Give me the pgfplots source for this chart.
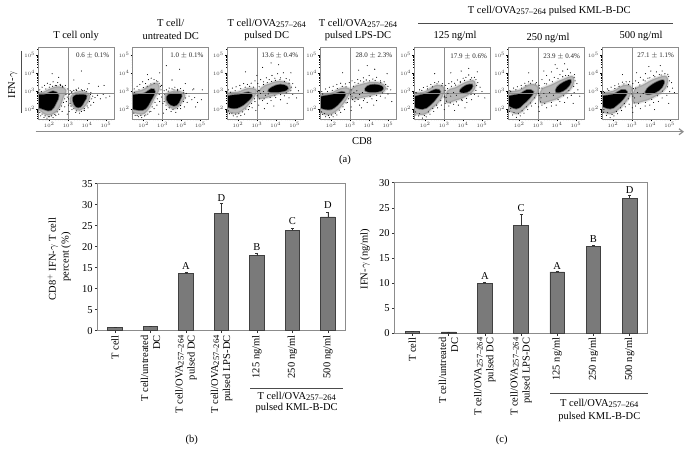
\documentclass[border=0pt]{standalone}
\usepackage{pgfplots}
\pgfplotsset{compat=1.18}
\usepackage{fontspec}
\setmainfont{Liberation Serif}
\usetikzlibrary{arrows.meta}
\definecolor{framegray}{HTML}{8C8C8C}
\definecolor{bargray}{HTML}{7A7A7A}
\newcommand{\lab}{\fontsize{10.5}{12}\selectfont}
\newcommand{\ova}{OVA\raisebox{-0.25ex}{\fontsize{8.5}{10}\selectfont 257--264}}

\pgfplotstableread{
x y e
0 0.7 0.1
1 1.0 0.1
2 13.6 0.4
3 28.0 2.3
4 17.9 0.6
5 23.9 0.4
6 27.1 1.1
}\tabb
\pgfplotstableread{
x y e
0 0.3 0.05
1 0.2 0.05
2 9.9 0.3
3 21.4 2.3
4 12.2 0.2
5 17.3 0.2
6 26.9 0.6
}\tabc

\pgfplotsset{
  flow/.style={
    scale only axis, anchor=south west, width=76pt, height=71.6pt,
    xmin=1.42, xmax=5.44, ymin=1.41, ymax=5.40,
    axis line style={framegray, line width=0.9pt},
    axis on top,
    tick pos=left, tick align=outside,
    xtick={2,3,4,5}, ytick={2,3,4,5},
    xticklabels={$10^2$,$10^3$,$10^4$,$10^5$},
    yticklabels={$10^2$,$10^3$,$10^4$,$10^5$},
    minor xtick={1.48,1.6,1.7,1.78,1.85,1.9,1.95,2.3,2.48,2.6,2.7,2.78,2.85,2.9,2.95,3.3,3.48,3.6,3.7,3.78,3.85,3.9,3.95,4.3,4.48,4.6,4.7,4.78,4.85,4.9,4.95,5.3},
    minor ytick={1.48,1.6,1.7,1.78,1.85,1.9,1.95,2.3,2.48,2.6,2.7,2.78,2.85,2.9,2.95,3.3,3.48,3.6,3.7,3.78,3.85,3.9,3.95,4.3,4.48,4.6,4.7,4.78,4.85,4.9,4.95,5.3},
    major tick length=2pt, minor tick length=1.1pt,
    tick style={black, line width=0.35pt},
    ticklabel style={font=\fontsize{4.5}{5}\selectfont, inner sep=1pt, text=black!75},
    clip=true,
  },
  halo/.style={smooth cycle, tension=0.7, fill=black, fill opacity=0.28, draw=black, draw opacity=0.1, line width=2.5pt, forget plot},
  core/.style={smooth cycle, tension=0.7, fill=black, draw=black, draw opacity=0.4, line width=1.6pt, forget plot},
  dots/.style={only marks, mark=*, mark size=0.25pt, black, forget plot},
  qline/.style={framegray, line width=0.6pt, forget plot},
  barax/.style={
    scale only axis, anchor=south west,
    xmin=-0.5, xmax=6.5, ymin=0,
    xtick={0,1,2,3,4,5,6},
    xticklabels={T cell,{T cell/untreated\\DC},{T cell/\ova\\pulsed DC},{T cell/\ova\\pulsed LPS-DC},125 ng/ml,250 ng/ml,500 ng/ml},
    xticklabel style={rotate=90, anchor=east, align=right, font=\lab, inner sep=2pt},
    yticklabel style={font=\lab, inner sep=2pt},
    /pgf/number format/assume math mode=true,
    tick pos=left, tick align=outside,
    major tick length=2.5pt,
    tick style={black!80, line width=0.5pt},
    axis line style={framegray, line width=0.9pt},
    ybar, bar width=14.5pt,
  },
  barst/.style={fill=bargray, draw=black!75, line width=0.6pt,
    error bars/.cd, y dir=plus, y explicit,
    error bar style={black!80, line width=0.6pt},
    error mark options={rotate=90, mark size=1.5pt, black!80}},
}

\begin{document}
\begin{tikzpicture}[x=1pt,y=-1pt]
\path[use as bounding box] (0,0) rectangle (691,462);

% --- panel a, flow plots (log10 of the channel values)
\begin{axis}[flow, at={(38.3pt,-119.3pt)}]
\addplot[halo] coordinates {(1.42,2.05)(1.6,1.8)(1.9,1.62)(2.25,1.72)(2.55,2.05)(2.75,2.6)(2.9,3.05)(2.5,3.25)(2.1,3.15)(1.7,2.95)(1.42,2.8)};
\addplot[core] coordinates {(1.3,2.2)(1.75,1.95)(2.1,1.92)(2.35,2.3)(2.5,2.75)(2.2,2.98)(1.8,2.8)(1.3,2.72)};
\addplot[halo] coordinates {(3.08,2.5)(3.25,2.1)(3.6,1.88)(3.95,2.2)(4.15,2.6)(4.05,2.88)(3.6,2.98)(3.25,2.85)};
\addplot[core] coordinates {(3.25,2.45)(3.4,2.12)(3.65,2.1)(3.85,2.4)(3.98,2.72)(3.6,2.78)(3.3,2.7)};
\addplot[dots] coordinates {(1.5,3.05)(1.62,3.2)(1.75,3.3)(1.9,3.42)(2.05,3.35)(2.2,3.5)(2.32,3.3)(2.45,3.45)(2.6,3.3)(2.72,3.2)(2.85,3.3)(1.55,1.6)(1.72,1.52)(1.88,1.48)(2.02,1.55)(2.2,1.5)(2.35,1.62)(2.5,1.7)(2.68,1.85)(2.82,2.1)(2.9,2.4)(2.95,2.65)(3.02,2.2)(3.05,2.8)(3.1,3.0)(3.18,2.92)(3.3,3.02)(3.42,3.08)(3.55,3.15)(3.7,3.05)(3.85,3.02)(4.02,3.1)(4.2,2.9)(4.3,2.7)(4.42,2.62)(4.55,2.75)(4.7,2.55)(4.85,2.8)(5.0,2.6)(4.35,2.35)(4.2,2.2)(4.05,2.05)(3.85,1.9)(3.6,1.75)(3.4,1.8)(3.2,1.95)(3.05,1.85)(2.95,1.7)(2.5,3.75)(3.3,3.6)(4.1,3.4)(4.6,3.25)(3.7,4.1)(2.15,3.95)(4.9,3.3)(5.2,2.7)(1.5,1.78)(1.62,1.7)(1.78,1.6)(1.95,1.55)(2.12,1.6)(2.3,1.68)(2.42,1.82)(2.55,1.95)(2.65,2.15)(2.75,2.35)(2.82,2.55)(2.88,2.8)(2.98,3.1)(2.7,3.25)(2.58,3.35)(2.38,3.28)(2.18,3.25)(2.0,3.2)(1.82,3.1)(1.58,2.95)(1.45,2.9)(3.1,2.3)(3.15,2.15)(3.3,2.0)(3.45,1.88)(3.7,1.85)(3.85,2.0)(4.0,2.15)(4.12,2.4)(4.25,2.55)(4.18,2.8)(3.95,2.95)(3.75,3.0)(3.45,3.02)(3.2,2.95)(3.02,2.55)};
\addplot[qline] coordinates {(3,1.41)(3,5.4)};
\addplot[qline] coordinates {(1.42,2.86)(5.44,2.86)};
\end{axis}

\begin{axis}[flow, at={(132.7pt,-119.3pt)}]
\addplot[halo] coordinates {(1.3,1.95)(1.7,1.7)(2.05,1.72)(2.35,2.1)(2.6,2.6)(2.85,3.1)(2.7,3.45)(2.3,3.3)(1.9,3.05)(1.3,2.8)};
\addplot[core] coordinates {(1.3,2.1)(1.75,1.92)(2.1,2.0)(2.35,2.4)(2.6,2.95)(2.4,3.1)(2.0,2.85)(1.3,2.7)};
\addplot[halo] coordinates {(3.1,2.55)(3.3,2.15)(3.65,1.98)(4.0,2.3)(4.2,2.75)(3.9,3.0)(3.5,2.98)(3.2,2.85)};
\addplot[core] coordinates {(3.22,2.5)(3.45,2.2)(3.75,2.2)(3.95,2.55)(4.0,2.8)(3.65,2.85)(3.3,2.78)};
\addplot[dots] coordinates {(1.5,3.1)(1.65,3.25)(1.8,3.35)(1.95,3.5)(2.1,3.4)(2.25,3.62)(2.4,3.7)(2.55,3.62)(2.68,3.55)(2.82,3.42)(2.95,3.3)(2.2,3.9)(1.55,1.62)(1.72,1.55)(1.9,1.5)(2.05,1.6)(2.22,1.7)(2.38,1.85)(2.55,2.0)(2.7,2.2)(2.85,2.4)(2.95,2.65)(3.02,2.3)(3.08,3.0)(3.2,3.05)(3.35,3.15)(3.5,3.1)(3.65,3.2)(3.8,3.08)(3.95,3.12)(4.1,3.02)(4.25,2.85)(4.4,2.7)(4.55,2.5)(4.7,2.62)(4.85,2.35)(5.05,2.5)(4.3,2.35)(4.15,2.1)(3.95,2.0)(3.7,1.8)(3.45,1.85)(3.2,1.95)(3.05,1.75)(2.8,1.7)(3.5,3.6)(4.2,3.4)(4.65,3.1)(2.85,4.0)(3.9,4.2)(5.1,3.05)(3.2,4.4)(4.75,2.1)(1.48,1.75)(1.65,1.62)(1.85,1.62)(2.12,1.65)(2.3,1.82)(2.45,2.1)(2.6,2.35)(2.72,2.55)(2.82,2.8)(2.92,3.05)(2.88,3.25)(2.75,3.5)(2.55,3.42)(2.38,3.38)(2.18,3.25)(1.98,3.18)(1.75,3.05)(1.52,2.92)(3.08,2.4)(3.18,2.2)(3.35,2.05)(3.55,1.95)(3.78,2.0)(3.95,2.18)(4.1,2.4)(4.22,2.6)(4.12,2.88)(3.8,3.0)(3.6,3.05)(3.3,2.98)(3.12,2.78)(4.6,3.05)};
\addplot[qline] coordinates {(3,1.41)(3,5.4)};
\addplot[qline] coordinates {(1.42,2.86)(5.44,2.86)};
\end{axis}

\begin{axis}[flow, at={(227pt,-119.3pt)}]
\addplot[halo] coordinates {(1.3,2.0)(1.8,1.72)(2.2,1.85)(2.6,2.25)(2.95,2.8)(2.95,3.1)(2.5,3.15)(2.0,2.95)(1.3,2.8)};
\addplot[core] coordinates {(1.3,2.2)(1.75,2.02)(2.1,2.1)(2.45,2.35)(2.75,2.72)(2.55,2.92)(2.1,2.8)(1.3,2.65)};
\addplot[halo] coordinates {(3.05,2.6)(3.5,2.6)(4.1,2.8)(4.7,2.95)(4.75,3.35)(4.2,3.55)(3.7,3.42)(3.2,3.15)};
\addplot[core] coordinates {(3.6,2.98)(4.0,2.92)(4.55,3.02)(4.62,3.22)(4.25,3.35)(3.8,3.2)};
\addplot[dots] coordinates {(1.5,3.05)(1.7,3.15)(1.9,3.22)(2.1,3.3)(2.3,3.4)(2.5,3.35)(2.7,3.42)(2.9,3.55)(3.05,3.4)(3.2,3.62)(3.35,3.5)(3.5,3.72)(3.65,3.62)(3.8,3.85)(3.95,3.7)(4.1,3.95)(4.25,3.72)(4.4,4.0)(4.55,3.68)(4.72,3.6)(4.9,3.4)(5.05,3.2)(5.2,3.0)(4.9,2.8)(4.7,2.6)(4.45,2.72)(4.25,2.5)(4.0,2.62)(3.75,2.45)(3.55,2.3)(3.3,2.45)(3.1,2.2)(2.9,2.4)(2.75,2.05)(2.55,1.95)(2.35,1.7)(2.15,1.62)(1.95,1.55)(1.75,1.6)(1.55,1.72)(3.2,2.85)(3.35,2.95)(3.45,2.75)(3.6,2.82)(3.05,2.95)(3.15,3.0)(2.95,1.9)(3.4,2.0)(3.9,2.15)(4.6,2.3)(2.4,4.05)(3.3,4.3)(4.15,4.45)(3.75,4.55)(5.1,2.6)(4.8,4.0)(3.0,3.85)(1.5,1.88)(1.68,1.75)(1.88,1.7)(2.05,1.72)(2.25,1.82)(2.42,1.98)(2.6,2.12)(2.72,2.3)(2.88,2.55)(3.02,2.72)(3.08,3.02)(2.82,3.2)(2.62,3.25)(2.38,3.2)(2.15,3.12)(1.85,3.0)(1.6,2.92)(3.12,3.22)(3.35,3.35)(3.55,3.45)(3.78,3.52)(3.98,3.58)(4.22,3.62)(4.45,3.52)(4.7,3.42)(4.82,3.2)(4.8,3.0)(4.55,2.88)(4.25,2.78)(3.95,2.72)(3.7,2.62)(3.38,2.55)(3.15,2.55)};
\addplot[qline] coordinates {(3,1.41)(3,5.4)};
\addplot[qline] coordinates {(1.42,2.86)(5.44,2.86)};
\end{axis}

\begin{axis}[flow, at={(320.3pt,-119.3pt)}]
\addplot[halo] coordinates {(1.3,1.95)(1.8,1.65)(2.2,1.8)(2.6,2.2)(2.95,2.8)(2.95,3.15)(2.5,3.15)(2.0,2.9)(1.3,2.7)};
\addplot[core] coordinates {(1.3,2.15)(1.8,1.95)(2.15,2.05)(2.5,2.4)(2.75,2.8)(2.55,2.95)(2.1,2.8)(1.3,2.6)};
\addplot[halo] coordinates {(3.05,2.55)(3.6,2.6)(4.2,2.75)(4.8,2.95)(4.85,3.3)(4.3,3.5)(3.6,3.38)(3.1,3.15)};
\addplot[core] coordinates {(3.8,3.0)(4.2,2.92)(4.65,3.0)(4.72,3.22)(4.3,3.35)(3.9,3.25)};
\addplot[dots] coordinates {(1.5,2.95)(1.7,3.1)(1.9,3.2)(2.1,3.25)(2.3,3.35)(2.5,3.42)(2.75,3.38)(2.95,3.45)(3.1,3.55)(3.25,3.45)(3.4,3.62)(3.55,3.55)(3.7,3.72)(3.85,3.6)(4.0,3.85)(4.2,3.65)(4.4,3.75)(4.6,3.55)(4.8,3.5)(5.0,3.25)(5.15,3.05)(5.0,2.82)(4.85,2.6)(4.6,2.7)(4.4,2.45)(4.15,2.55)(3.9,2.35)(3.7,2.45)(3.5,2.2)(3.25,2.4)(3.05,2.1)(2.85,2.35)(2.7,1.95)(2.5,1.8)(2.3,1.65)(2.1,1.55)(1.9,1.5)(1.7,1.55)(1.55,1.68)(3.2,2.9)(3.35,3.0)(3.5,2.8)(3.65,2.9)(3.1,2.7)(3.3,2.62)(3.05,1.9)(3.6,2.05)(4.25,2.2)(2.6,4.0)(3.45,4.15)(4.3,4.2)(3.9,4.4)(5.2,2.4)(4.95,3.95)(1.48,1.82)(1.65,1.72)(1.85,1.62)(2.02,1.65)(2.22,1.75)(2.42,1.92)(2.62,2.1)(2.78,2.32)(2.92,2.55)(3.02,2.8)(3.05,3.05)(2.78,3.22)(2.58,3.25)(2.32,3.12)(2.05,3.02)(1.8,2.95)(1.55,2.82)(3.18,3.25)(3.42,3.42)(3.72,3.5)(4.02,3.55)(4.32,3.58)(4.62,3.45)(4.88,3.35)(4.95,3.1)(4.72,2.88)(4.4,2.75)(4.05,2.68)(3.75,2.55)(3.42,2.52)(3.12,2.52)};
\addplot[qline] coordinates {(3,1.41)(3,5.4)};
\addplot[qline] coordinates {(1.42,2.86)(5.44,2.86)};
\end{axis}

\begin{axis}[flow, at={(414.3pt,-119.3pt)}]
\addplot[halo] coordinates {(1.3,1.9)(1.9,1.65)(2.3,1.95)(2.75,2.4)(3.0,2.9)(2.95,3.25)(2.5,3.3)(2.0,2.98)(1.3,2.75)};
\addplot[core] coordinates {(1.3,2.2)(1.85,1.98)(2.25,2.2)(2.6,2.6)(2.8,2.95)(2.55,3.08)(2.05,2.85)(1.3,2.6)};
\addplot[halo] coordinates {(3.1,2.35)(3.6,2.45)(4.1,2.65)(4.6,3.05)(4.6,3.55)(4.15,3.5)(3.6,3.2)(3.15,3.0)};
\addplot[core] coordinates {(3.9,2.9)(4.2,2.92)(4.45,3.12)(4.48,3.35)(4.15,3.3)(3.85,3.05)};
\addplot[dots] coordinates {(1.5,2.9)(1.7,3.05)(1.9,3.18)(2.1,3.25)(2.3,3.35)(2.5,3.45)(2.7,3.5)(2.9,3.4)(3.08,3.3)(3.25,3.4)(3.4,3.5)(3.55,3.42)(3.7,3.6)(3.85,3.52)(4.0,3.7)(4.15,3.75)(4.3,3.88)(4.45,3.72)(4.6,3.75)(4.78,3.45)(4.9,3.2)(5.0,2.95)(4.8,2.7)(4.6,2.8)(4.45,2.5)(4.2,2.35)(3.95,2.45)(3.75,2.2)(3.5,2.25)(3.25,2.15)(3.05,2.3)(2.85,2.2)(2.65,2.05)(2.45,1.85)(2.25,1.7)(2.05,1.55)(1.85,1.48)(1.65,1.6)(1.5,1.65)(3.02,2.7)(3.1,2.62)(3.2,2.85)(3.35,2.7)(3.5,2.9)(3.65,2.75)(3.0,1.95)(3.55,1.9)(4.1,2.05)(2.5,3.95)(3.35,4.0)(4.3,4.25)(3.9,4.1)(5.15,2.6)(4.75,4.05)(1.48,1.82)(1.7,1.72)(1.95,1.62)(2.18,1.82)(2.4,2.02)(2.6,2.2)(2.82,2.45)(3.0,2.65)(3.05,3.02)(2.88,3.3)(2.62,3.38)(2.38,3.22)(2.12,3.1)(1.82,3.02)(1.55,2.88)(3.18,3.12)(3.38,3.25)(3.6,3.32)(3.85,3.45)(4.08,3.58)(4.38,3.62)(4.68,3.62)(4.72,3.3)(4.68,3.02)(4.42,2.8)(4.18,2.58)(3.92,2.5)(3.65,2.38)(3.32,2.32)(3.12,2.42)};
\addplot[qline] coordinates {(3,1.41)(3,5.4)};
\addplot[qline] coordinates {(1.42,2.86)(5.44,2.86)};
\end{axis}

\begin{axis}[flow, at={(508.3pt,-119.3pt)}]
\addplot[halo] coordinates {(1.3,2.1)(1.85,1.7)(2.3,2.0)(2.75,2.5)(3.0,2.95)(2.95,3.3)(2.5,3.35)(2.0,3.05)(1.3,2.85)};
\addplot[core] coordinates {(1.3,2.3)(1.85,2.0)(2.2,2.25)(2.55,2.6)(2.75,2.95)(2.4,3.05)(2.0,2.82)(1.3,2.65)};
\addplot[halo] coordinates {(3.1,2.35)(3.6,2.4)(4.2,2.65)(4.8,3.2)(4.85,3.8)(4.3,3.65)(3.7,3.35)(3.15,3.05)};
\addplot[core] coordinates {(3.95,2.92)(4.3,2.98)(4.65,3.3)(4.72,3.6)(4.35,3.48)(4.0,3.2)};
\addplot[dots] coordinates {(1.5,3.0)(1.7,3.15)(1.9,3.22)(2.1,3.3)(2.3,3.42)(2.5,3.5)(2.7,3.55)(2.9,3.45)(3.05,3.3)(3.2,3.62)(3.35,3.4)(3.45,3.85)(3.6,3.6)(3.7,4.05)(3.85,3.75)(4.0,4.25)(4.15,3.9)(4.3,4.1)(4.45,3.85)(4.55,4.2)(4.7,4.0)(4.9,3.75)(5.05,3.4)(5.1,3.05)(4.9,2.9)(4.75,2.75)(4.55,2.6)(4.4,2.35)(4.15,2.4)(3.95,2.2)(3.7,2.15)(3.45,2.05)(3.2,2.2)(3.02,2.1)(2.85,2.3)(2.65,2.15)(2.45,1.95)(2.25,1.75)(2.05,1.6)(1.85,1.52)(1.65,1.65)(1.48,1.85)(3.05,2.75)(3.15,2.6)(3.3,2.85)(3.45,2.7)(3.6,2.9)(3.8,2.75)(3.3,4.1)(3.9,4.45)(4.4,4.5)(5.2,2.7)(2.5,4.0)(4.85,2.3)(3.05,1.85)(1.55,2.0)(1.72,1.78)(1.95,1.72)(2.15,1.88)(2.38,2.1)(2.6,2.32)(2.82,2.6)(3.02,2.85)(3.08,3.15)(2.85,3.38)(2.6,3.42)(2.35,3.28)(2.12,3.15)(1.82,3.05)(1.55,2.95)(3.2,3.15)(3.45,3.38)(3.75,3.5)(4.05,3.68)(4.3,3.78)(4.6,3.85)(4.92,3.9)(4.95,3.55)(4.88,3.25)(4.62,3.0)(4.35,2.72)(4.05,2.5)(3.7,2.35)(3.35,2.28)(3.12,2.38)};
\addplot[qline] coordinates {(3,1.41)(3,5.4)};
\addplot[qline] coordinates {(1.42,2.86)(5.44,2.86)};
\end{axis}

\begin{axis}[flow, at={(602pt,-119.3pt)}]
\addplot[halo] coordinates {(1.3,2.0)(1.85,1.7)(2.3,1.95)(2.75,2.45)(3.0,3.0)(2.9,3.3)(2.5,3.3)(2.0,3.0)(1.3,2.8)};
\addplot[core] coordinates {(1.3,2.25)(1.85,2.0)(2.2,2.2)(2.55,2.55)(2.75,2.95)(2.45,3.05)(2.0,2.8)(1.3,2.65)};
\addplot[halo] coordinates {(3.08,2.35)(3.6,2.4)(4.2,2.65)(4.8,3.15)(4.85,3.8)(4.25,3.7)(3.6,3.35)(3.12,3.05)};
\addplot[core] coordinates {(3.75,2.82)(4.2,2.88)(4.6,3.2)(4.68,3.58)(4.25,3.45)(3.8,3.1)};
\addplot[dots] coordinates {(1.5,2.95)(1.7,3.1)(1.9,3.2)(2.1,3.28)(2.3,3.38)(2.5,3.48)(2.7,3.5)(2.88,3.5)(3.05,3.4)(3.2,3.55)(3.35,3.45)(3.45,3.75)(3.6,3.6)(3.72,3.95)(3.85,3.7)(4.0,4.1)(4.15,3.85)(4.3,4.05)(4.45,3.9)(4.6,4.1)(4.75,3.95)(4.95,3.8)(5.1,3.45)(5.15,3.15)(5.0,2.95)(4.85,2.75)(4.6,2.6)(4.4,2.4)(4.15,2.35)(3.95,2.2)(3.7,2.15)(3.45,2.0)(3.2,2.15)(3.02,2.05)(2.85,2.25)(2.65,2.1)(2.45,1.9)(2.25,1.72)(2.05,1.6)(1.85,1.5)(1.65,1.62)(1.5,1.8)(3.05,2.7)(3.15,2.6)(3.3,2.9)(3.45,2.7)(3.6,2.85)(3.25,4.0)(3.9,4.35)(4.5,4.4)(5.25,2.9)(2.5,3.9)(4.95,2.3)(3.05,1.8)(4.2,1.95)(1.52,1.95)(1.72,1.78)(1.95,1.68)(2.18,1.85)(2.4,2.05)(2.6,2.28)(2.82,2.55)(3.0,2.82)(3.08,3.12)(2.82,3.35)(2.58,3.38)(2.32,3.25)(2.1,3.12)(1.78,3.02)(1.55,2.9)(3.2,3.15)(3.42,3.32)(3.7,3.55)(3.95,3.72)(4.22,3.78)(4.55,3.88)(4.9,3.92)(4.98,3.55)(4.88,3.22)(4.62,2.98)(4.35,2.72)(4.05,2.52)(3.72,2.35)(3.35,2.28)(3.12,2.32)};
\addplot[qline] coordinates {(3,1.41)(3,5.4)};
\addplot[qline] coordinates {(1.42,2.86)(5.44,2.86)};
\end{axis}

% --- panel a, text around the plots
\begin{scope}[every node/.style={font=\lab, inner sep=0pt}]
\node at (76,36) {T cell only};
\node at (170.7,22.7) {T cell/};
\node at (170.7,36) {untreated DC};
\node at (266.7,23.5) {T cell/\ova};
\node at (266.7,36) {pulsed DC};
\node at (358,23.5) {T cell/\ova};
\node at (358,36) {pulsed LPS-DC};
\node at (549.3,11) {T cell/\ova{} pulsed KML-B-DC};
\draw[black!70, line width=0.7pt] (418,23.7) -- (672.7,23.7);
\node at (455,36) {125 ng/ml};
\node at (548,38) {250 ng/ml};
\node at (641,36) {500 ng/ml};
\node[rotate=90] at (12.7,85) {IFN-$\gamma$};
\draw[black!70, line width=0.7pt] (21.3,50.7) -- (21.3,113.3);
\draw[framegray, line width=1.2pt, -{Straight Barb[length=4pt,width=6pt]}] (35.7,131.7) -- (684,131.7);
\node at (362,141.5) {CD8};
\node at (345,160) {(a)};
\end{scope}
\begin{scope}[every node/.style={font=\fontsize{7}{8}\selectfont, inner sep=0pt, text=black!85}]
\node at (92.7,55.5) {0.6 $\pm$ 0.1\%};
\node at (187,55.5) {1.0 $\pm$ 0.1\%};
\node at (280,55.5) {13.6 $\pm$ 0.4\%};
\node at (374,56) {28.0 $\pm$ 2.3\%};
\node at (468.7,56.5) {17.9 $\pm$ 0.6\%};
\node at (561.7,57) {23.9 $\pm$ 0.4\%};
\node at (655.7,56) {27.1 $\pm$ 1.1\%};
\end{scope}

% --- panel b
\begin{axis}[barax, at={(97.3pt,-330.7pt)}, width=248.4pt, height=147pt,
    ymax=35, ytick={0,5,...,35}]
\addplot[barst] table[x=x, y=y, y error=e] {\tabb};
\node[font=\lab, inner sep=0pt] at (axis cs:2,15.4) {A};
\node[font=\lab, inner sep=0pt] at (axis cs:3,31.6) {D};
\node[font=\lab, inner sep=0pt] at (axis cs:4,20) {B};
\node[font=\lab, inner sep=0pt] at (axis cs:5,26.1) {C};
\node[font=\lab, inner sep=0pt] at (axis cs:6,29.9) {D};
\end{axis}

% --- panel c
\begin{axis}[barax, at={(394.3pt,-333pt)}, width=253.4pt, height=150.3pt,
    ymax=30, ytick={0,5,...,30}]
\addplot[barst] table[x=x, y=y, y error=e] {\tabc};
\node[font=\lab, inner sep=0pt] at (axis cs:2,11.3) {A};
\node[font=\lab, inner sep=0pt] at (axis cs:3,24.9) {C};
\node[font=\lab, inner sep=0pt] at (axis cs:4,13.3) {A};
\node[font=\lab, inner sep=0pt] at (axis cs:5,18.7) {B};
\node[font=\lab, inner sep=0pt] at (axis cs:6,28.6) {D};
\end{axis}

% --- labels around b and c
\begin{scope}[every node/.style={font=\lab, inner sep=0pt}]
\node[rotate=90] at (52.7,259) {CD8$^{+}$ IFN-$\gamma$ T cell};
\node[rotate=90] at (66,257) {percent (\%)};
\draw[black!70, line width=0.7pt] (250,388) -- (342.7,388);
\node at (296.7,396.7) {T cell/\ova};
\node at (296.7,408.3) {pulsed KML-B-DC};
\node at (191.7,440) {(b)};
\node[rotate=90] at (365,259) {IFN-$\gamma$ (ng/ml)};
\draw[black!70, line width=0.7pt] (550,393.3) -- (648.3,393.3);
\node at (599.3,403.7) {T cell/\ova};
\node at (599.3,417.3) {pulsed KML-B-DC};
\node at (501.7,440) {(c)};
\end{scope}
\end{tikzpicture}
\end{document}
